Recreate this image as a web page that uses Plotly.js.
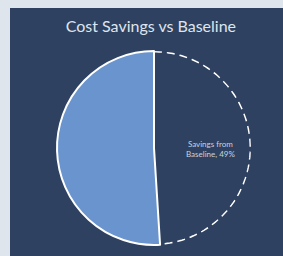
<!DOCTYPE html>
<html><head><meta charset="utf-8">
<script src="https://cdn.plot.ly/plotly-3.0.1.min.js"></script>
<style>
html,body{margin:0;padding:0;background:#dfe5ec;width:283px;height:256px;overflow:hidden;}
#chart{position:absolute;left:10px;top:8px;width:273px;height:248px;}
</style></head>
<body><div id="chart"></div>
<script>
const labels = ['Savings from<br>Baseline', 'Cost'];
const shares = [49, 51];
const sliceColors = ['rgba(0,0,0,0)', '#6a94cd'];
const lineColors = ['rgba(0,0,0,0)', '#ffffff'];

const total = shares.reduce((a,b)=>a+b,0);
const dx = [47/273, 241/273], dy = [11/248, 205/248];

// dashed outline of the savings slice, computed from its share
const savingsFrac = shares[0]/total;
const arcTheta = [], arcR = [];
for (let i = 0; i <= 120; i++) {
  arcTheta.push(90 - 360*savingsFrac*i/120);
  arcR.push(1);
}

const data = [
  {type:'pie', labels:labels, values:shares, sort:false, direction:'clockwise', rotation:0,
   marker:{colors:sliceColors, line:{color:lineColors, width:2}},
   textinfo:'none', domain:{x:dx, y:dy}, hoverinfo:'none', showlegend:false},
  {type:'scatterpolar', r:arcR, theta:arcTheta, mode:'lines',
   line:{color:'#ffffff', width:3, dash:'8px,5px'}, hoverinfo:'skip', showlegend:false}
];
const layout = {
  width:273, height:248, margin:{l:0,r:0,t:0,b:0},
  paper_bgcolor:'#2e4160', plot_bgcolor:'#2e4160',
  title:{text:'Cost Savings vs Baseline', x:0.516, xanchor:'center', y:1-18/248, yanchor:'middle', yref:'container',
         font:{family:'Lato, sans-serif', size:16, color:'#dfe5ee'}},
  polar:{domain:{x:dx, y:dy}, bgcolor:'rgba(0,0,0,0)',
         radialaxis:{visible:false, range:[0,1]}, angularaxis:{visible:false}},
  annotations:[{text: labels[0] + ', ' + Math.round(100*shares[0]/total) + '%',
    xref:'paper', yref:'paper', x:0.736, y:0.431, xanchor:'center', yanchor:'middle', showarrow:false,
    font:{family:'Lato, sans-serif', size:8, color:'#c9d2df'}}],
  showlegend:false
};
Plotly.newPlot('chart', data, layout, {displayModeBar:false, staticPlot:true});
</script></body></html>
